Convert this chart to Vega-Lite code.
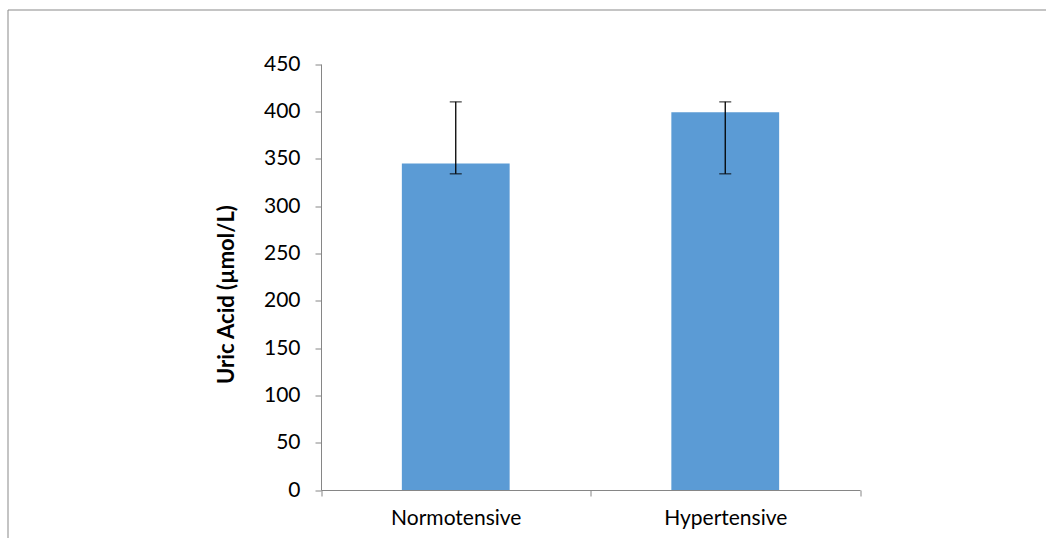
{
  "$schema": "https://vega.github.io/schema/vega-lite/v6.json",
  "autosize": {"type": "none"},
  "padding": {"left": 7.5, "top": 9.5, "right": 0, "bottom": 0},
  "width": 1045,
  "height": 535,
  "background": "white",
  "config": {
    "view": {"stroke": "#898989", "strokeWidth": 1},
    "font": "Lato"
  },
  "data": {
    "values": [
      {"group": "Normotensive", "mean": 345, "low": 334, "high": 410},
      {"group": "Hypertensive", "mean": 399, "low": 334, "high": 410}
    ]
  },
  "encoding": {
    "x": {
      "field": "group",
      "type": "nominal",
      "sort": null,
      "scale": {"range": [313.5, 852.5], "paddingInner": 0, "paddingOuter": 0},
      "axis": {
        "orient": "bottom",
        "offset": -54.5,
        "tickBand": "extent",
        "labelAngle": 0,
        "domainColor": "#868686",
        "tickColor": "#868686",
        "tickSize": 6,
        "labelFont": "Lato",
        "labelFontSize": 21,
        "labelColor": "#000000",
        "labelPadding": 11,
        "title": null,
        "grid": false
      }
    }
  },
  "layer": [
    {
      "mark": {"type": "bar", "width": {"band": 0.4}, "color": "#5B9BD5"},
      "encoding": {
        "y": {
          "field": "mean",
          "type": "quantitative",
          "scale": {"domain": [0, 450], "range": [480.5, 54.5], "nice": false, "zero": true},
          "axis": {
            "orient": "left",
            "offset": -313.5,
            "values": [0, 50, 100, 150, 200, 250, 300, 350, 400, 450],
            "grid": false,
            "domainColor": "#868686",
            "tickColor": "#868686",
            "tickSize": 6,
            "labelFont": "Lato",
            "labelFontSize": 21,
            "labelColor": "#000000",
            "labelPadding": 15,
            "title": "Uric Acid (µmol/L)",
            "titleFont": "Lato",
            "titleFontSize": 22,
            "titleFontWeight": "bold",
            "titleColor": "#000000",
            "titleY": 284.5,
            "titlePadding": 25
          }
        }
      }
    },
    {
      "mark": {"type": "rule", "color": "#000000", "strokeWidth": 1.3},
      "encoding": {
        "y": {"field": "low", "type": "quantitative", "title": "Uric Acid (µmol/L)"},
        "y2": {"field": "high"}
      }
    },
    {
      "mark": {"type": "tick", "color": "#000000", "thickness": 1.3, "size": 12},
      "encoding": {
        "y": {"field": "high", "type": "quantitative", "title": "Uric Acid (µmol/L)"}
      }
    },
    {
      "mark": {"type": "tick", "color": "#000000", "thickness": 1.3, "size": 12},
      "encoding": {
        "y": {"field": "low", "type": "quantitative", "title": "Uric Acid (µmol/L)"}
      }
    }
  ]
}
